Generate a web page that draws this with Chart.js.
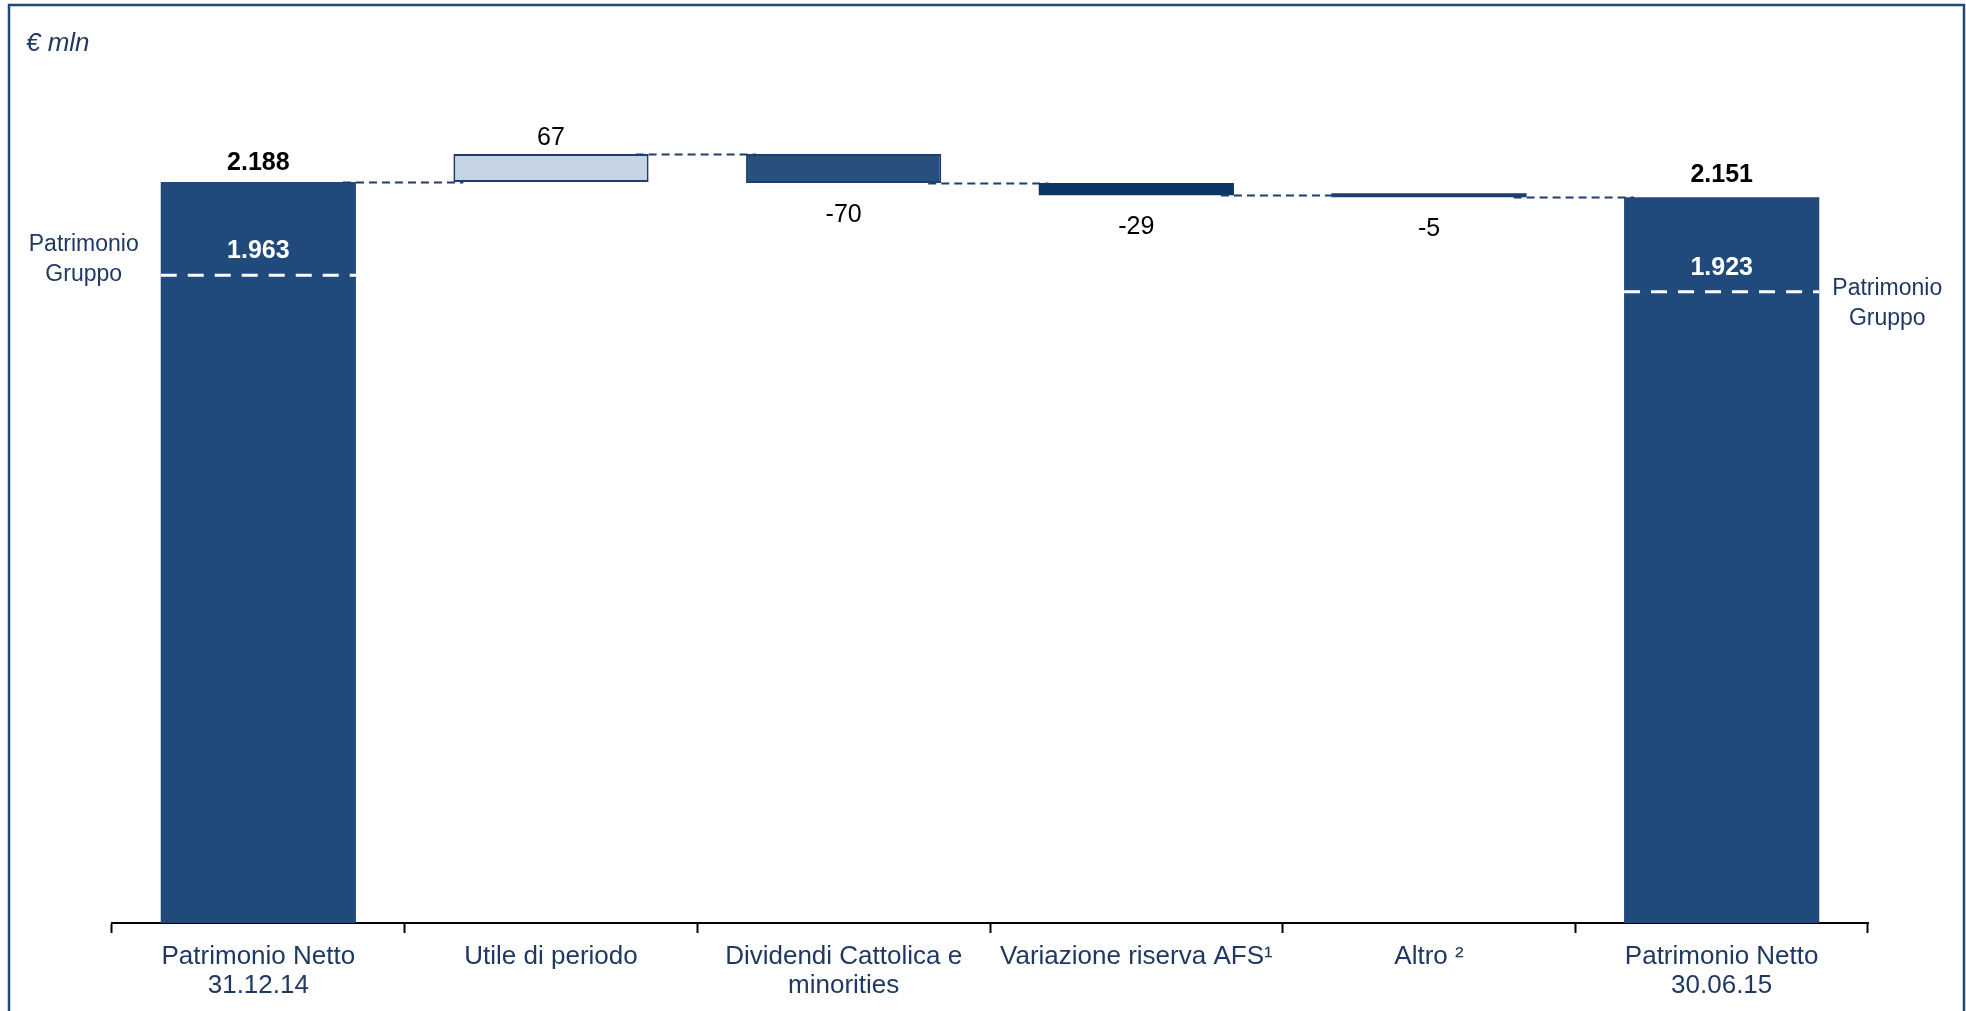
<!DOCTYPE html>
<html lang="it">
<head>
<meta charset="utf-8">
<title>Patrimonio Netto – evoluzione</title>
<script src="https://cdn.jsdelivr.net/npm/chart.js@4.4.1/dist/chart.umd.min.js"></script>
<style>
  html, body { margin: 0; padding: 0; background: #ffffff; }
  #wrap { position: relative; width: 1966px; height: 1011px; }
</style>
</head>
<body>
<div id="wrap"><canvas id="chart"></canvas></div>
<script>
// Voci del ponte patrimoniale
const categories = [
  ['Patrimonio Netto', '31.12.14'],
  'Utile di periodo',
  ['Dividendi Cattolica e', 'minorities'],
  'Variazione riserva AFS¹',
  'Altro ²',
  ['Patrimonio Netto', '30.06.15']
];
const openingEquity = 2188;          // Patrimonio Netto 31.12.14
const movements = [67, -70, -29, -5]; // variazioni del periodo
const closingEquity = 2151;          // Patrimonio Netto 30.06.15
const groupEquity = [1963, 1923];    // Patrimonio Gruppo (inizio, fine)
const unitLabel = '€ mln';
const groupLabel = ['Patrimonio', 'Gruppo'];

const FONT = "'Liberation Sans', Arial, Helvetica, sans-serif";
const NAVY = '#1F3864';

// Barre flottanti: totali dalla base, variazioni come intervalli cumulati
const floating = [[0, openingEquity]];
const levels = [openingEquity];
let running = openingEquity;
movements.forEach(m => {
  floating.push([running, running + m]);
  running += m;
  levels.push(running);
});
floating.push([0, closingEquity]);
const totalIndex = [0, categories.length - 1];

function fmtIt(v) {
  const s = Math.abs(v).toString().replace(/\B(?=(\d{3})+(?!\d))/g, '.');
  return (v < 0 ? '-' : '') + s;
}

const bridgePlugin = {
  id: 'bridge',
  afterDatasetsDraw(chart) {
    const ctx = chart.ctx;
    const y = chart.scales.y;
    const bars = chart.getDatasetMeta(0).data;
    const rect = i => {
      const b = bars[i];
      return {
        left: b.x - b.width / 2, right: b.x + b.width / 2,
        top: Math.min(b.y, b.base), bottom: Math.max(b.y, b.base), cx: b.x
      };
    };

    ctx.save();
    // linee di collegamento tratteggiate
    ctx.strokeStyle = '#1F3D6E';
    ctx.lineWidth = 2;
    ctx.setLineDash([8, 5]);
    for (let i = 0; i < bars.length - 1; i++) {
      const a = rect(i), b = rect(i + 1);
      const py = Math.round(y.getPixelForValue(levels[i])) + 0.5;
      ctx.beginPath();
      ctx.moveTo(a.right - 13, py);
      ctx.lineTo(b.left + 10, py);
      ctx.stroke();
    }

    // Patrimonio Gruppo dentro le barre totali
    totalIndex.forEach((idx, k) => {
      const r = rect(idx);
      const py = y.getPixelForValue(groupEquity[k]);
      ctx.strokeStyle = '#ffffff';
      ctx.lineWidth = 3;
      ctx.setLineDash([16, 11]);
      ctx.beginPath();
      ctx.moveTo(r.left, py);
      ctx.lineTo(r.right, py);
      ctx.stroke();

      ctx.setLineDash([]);
      ctx.fillStyle = '#ffffff';
      ctx.font = 'bold 25px ' + FONT;
      ctx.textAlign = 'center';
      ctx.textBaseline = 'middle';
      ctx.fillText(fmtIt(groupEquity[k]), r.cx, py - 24);

      ctx.fillStyle = NAVY;
      ctx.font = '23px ' + FONT;
      const sx = k === 0 ? r.left - 77 : r.right + 68;
      const sy = k === 0 ? py - 30 : py - 3;
      groupLabel.forEach((t, j) => ctx.fillText(t, sx, sy + j * 29.5));
    });

    // etichette dei valori
    ctx.setLineDash([]);
    ctx.textAlign = 'center';
    ctx.textBaseline = 'middle';
    ctx.fillStyle = '#000000';
    floating.forEach((d, i) => {
      const r = rect(i);
      const isTotal = totalIndex.includes(i);
      const value = isTotal ? d[1] : d[1] - d[0];
      if (isTotal) {
        ctx.font = 'bold 25px ' + FONT;
        ctx.fillText(fmtIt(value), r.cx, r.top - (i === 0 ? 19 : 22));
      } else if (value >= 0) {
        ctx.font = '25px ' + FONT;
        ctx.fillText(fmtIt(value), r.cx, r.top - 16);
      } else {
        ctx.font = '25px ' + FONT;
        ctx.fillText(fmtIt(value), r.cx, r.bottom + 32);
      }
    });

    // unità di misura
    ctx.fillStyle = NAVY;
    ctx.font = 'italic 26px ' + FONT;
    ctx.textAlign = 'left';
    ctx.fillText(unitLabel, 26, 44);

    // cornice
    ctx.strokeStyle = '#1F497D';
    ctx.lineWidth = 2.5;
    ctx.strokeRect(9, 5, 1955, 1030);
    ctx.restore();
  }
};

new Chart(document.getElementById('chart'), {
  type: 'bar',
  data: {
    labels: categories,
    datasets: [{
      data: floating,
      backgroundColor: ['#214A7C', '#C6D5E5', '#27507C', '#0B3567', '#1F3D6E', '#214A7C'],
      borderColor: ['#214A7C', '#1F3D6E', '#1F3D6E', '#0B3567', '#1F3D6E', '#214A7C'],
      borderWidth: [0, 2, 2, 0, 0, 0],
      borderSkipped: false,
      minBarLength: 4,
      categoryPercentage: 1,
      barPercentage: 0.667,
      clip: 0
    }]
  },
  options: {
    responsive: true,
    maintainAspectRatio: false,
    animation: false,
    layout: { padding: { left: 112, right: 98, top: 94, bottom: 2 } },
    plugins: { legend: { display: false }, tooltip: { enabled: false } },
    scales: {
      x: {
        grid: { offset: true, drawOnChartArea: false, drawTicks: true, tickLength: 10, tickColor: '#000000', tickWidth: 2 },
        border: { display: true, color: '#000000', width: 2 },
        ticks: { color: NAVY, font: { family: FONT, size: 26, lineHeight: 1.115 }, padding: 9, maxRotation: 0, autoSkip: false }
      },
      y: { display: false, min: 400, max: 2400 }
    }
  },
  plugins: [bridgePlugin]
});
</script>
</body>
</html>
